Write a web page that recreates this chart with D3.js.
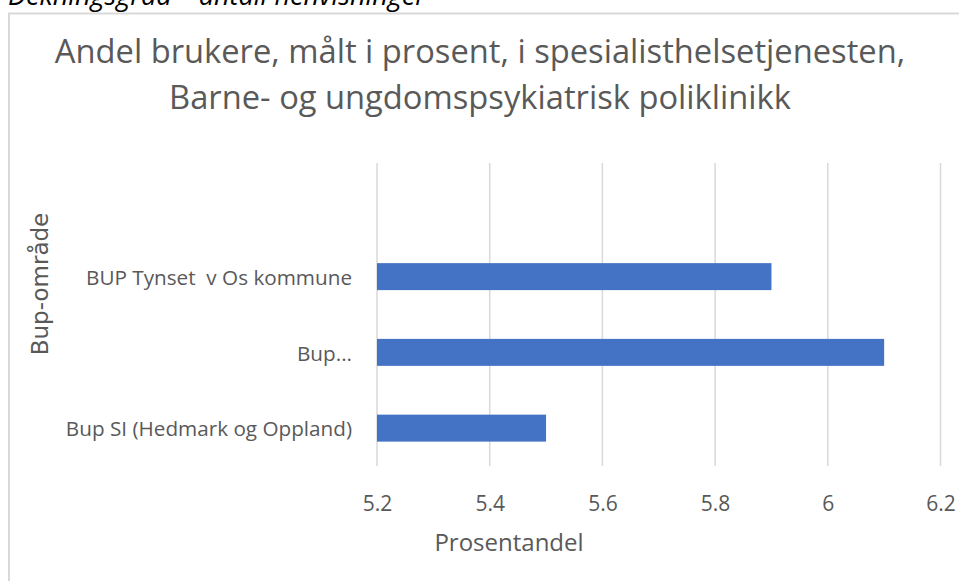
<!DOCTYPE html>
<html>
<head>
<meta charset="utf-8">
<script src="https://cdn.jsdelivr.net/npm/d3@7"></script>
<style>
  html, body { margin: 0; padding: 0; background: #fff; overflow: hidden; }
  svg { display: block; }
  text { white-space: pre; }
</style>
</head>
<body>
<svg id="chart" width="959" height="581"></svg>
<script>
// Bar categories, listed bottom to top; the topmost slot is an empty category
const categories = ["Bup SI (Hedmark og Oppland)", "Bup...", "BUP Tynset  v Os kommune", ""];
const shares = [5.5, 6.1, 5.9, null];
const xTicks = [5.2, 5.4, 5.6, 5.8, 6, 6.2];

const heading = "Dekningsgrad \u2013 antall henvisninger";
const titleLines = [
  "Andel brukere, målt i prosent, i spesialisthelsetjenesten,",
  "Barne- og ungdomspsykiatrisk poliklinikk"
];
const xTitle = "Prosentandel";
const yTitle = "Bup-område";

const font = "'Open Sans', sans-serif";
const textGray = "#595959";

const svg = d3.select("#chart");

// Section heading above the chart frame
svg.append("text")
  .attr("x", 8).attr("y", 5)
  .attr("font-family", font)
  .attr("font-style", "italic")
  .attr("font-size", 27)
  .attr("fill", "#000")
  .text(heading);

// Chart frame
svg.append("rect")
  .attr("x", 9).attr("y", 13.5)
  .attr("width", 1000).attr("height", 600)
  .attr("fill", "#fff")
  .attr("stroke", "#d9d9d9")
  .attr("stroke-width", 2);

// Title
svg.append("g").selectAll("text")
  .data(titleLines)
  .join("text")
  .attr("x", 480)
  .attr("y", (d, i) => 63 + i * 46)
  .attr("text-anchor", "middle")
  .attr("font-family", font)
  .attr("font-size", 32.7)
  .attr("fill", textGray)
  .text(d => d);

const plot = { left: 377, right: 940.5, top: 163, bottom: 466 };

const x = d3.scaleLinear()
  .domain([5.2, 6.2])
  .range([plot.left, plot.right]);

const y = d3.scaleBand()
  .domain(categories)
  .range([plot.bottom, plot.top])
  .paddingInner(0.644)
  .paddingOuter(0.322);

// Vertical gridlines
svg.append("g").selectAll("line")
  .data(xTicks)
  .join("line")
  .attr("x1", d => x(d)).attr("x2", d => x(d))
  .attr("y1", plot.top).attr("y2", plot.bottom)
  .attr("stroke", "#d9d9d9")
  .attr("stroke-width", 1.5);

// Bars
svg.append("g").selectAll("rect")
  .data(categories.map((c, i) => ({ c, v: shares[i] })).filter(d => d.v != null))
  .join("rect")
  .attr("x", x(5.2))
  .attr("y", d => y(d.c))
  .attr("width", d => x(d.v) - x(5.2))
  .attr("height", y.bandwidth())
  .attr("fill", "#4472c4");

// X axis tick labels
const xAxis = d3.axisBottom(x)
  .tickValues(xTicks)
  .tickSize(0)
  .tickPadding(0)
  .tickFormat(d3.format("~g"));
const gx = svg.append("g")
  .attr("transform", `translate(0,${plot.bottom + 30})`)
  .call(xAxis);
gx.select(".domain").remove();
gx.selectAll("text")
  .attr("font-family", font)
  .attr("font-size", 21)
  .attr("fill", textGray)
  .attr("dy", "0.7em");

// Y axis category labels
const yAxis = d3.axisLeft(y).tickSize(0).tickPadding(0);
const gy = svg.append("g")
  .attr("transform", `translate(${plot.left - 25},0)`)
  .call(yAxis);
gy.select(".domain").remove();
gy.selectAll("text")
  .attr("font-family", font)
  .attr("font-size", 20.7)
  .attr("fill", textGray)
  .attr("dy", "0.4em");

// Axis titles
svg.append("text")
  .attr("x", 509).attr("y", 551)
  .attr("text-anchor", "middle")
  .attr("font-family", font)
  .attr("font-size", 24)
  .attr("fill", textGray)
  .text(xTitle);

svg.append("text")
  .attr("transform", "translate(48,284) rotate(-90)")
  .attr("text-anchor", "middle")
  .attr("font-family", "'DejaVu Sans', sans-serif")
  .attr("font-size", 23)
  .attr("fill", textGray)
  .text(yTitle);
</script>
</body>
</html>
